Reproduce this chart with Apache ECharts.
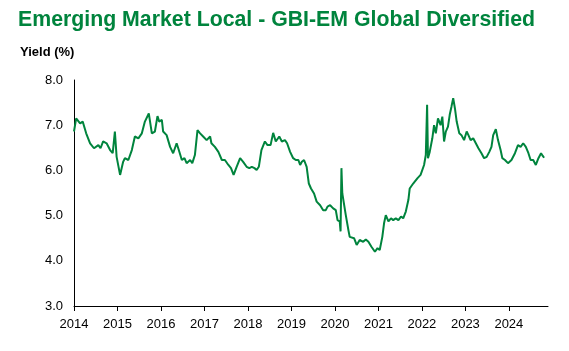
<!DOCTYPE html>
<html lang="en">
<head>
<meta charset="UTF-8">
<title>Emerging Market Local - GBI-EM Global Diversified</title>
<script src="https://cdn.jsdelivr.net/npm/echarts@6/dist/echarts.min.js"></script>
<style>
html, body { margin: 0; padding: 0; background: #fff; }
#chart { width: 569px; height: 351px; }
</style>
</head>
<body>
<div id="chart"></div>
<script>
// decimal-year dates and yields
const dates = [
2014.00,2014.05,2014.14,2014.20,2014.28,2014.37,2014.46,2014.56,2014.61,2014.67,2014.75,2014.83,2014.89,2014.94,2014.98,
2015.06,2015.13,2015.17,2015.25,2015.33,2015.40,2015.48,2015.56,2015.63,2015.72,2015.79,2015.86,2015.92,2015.96,
2016.02,2016.05,2016.13,2016.21,2016.28,2016.36,2016.41,2016.48,2016.54,2016.59,2016.67,2016.72,2016.78,2016.84,2016.90,2016.97,
2017.05,2017.13,2017.16,2017.24,2017.32,2017.40,2017.47,2017.55,2017.61,2017.67,2017.74,2017.82,2017.89,2017.97,
2018.03,2018.09,2018.15,2018.20,2018.25,2018.31,2018.39,2018.45,2018.52,2018.58,2018.64,2018.72,2018.78,2018.85,2018.90,2018.97,
2019.04,2019.10,2019.16,2019.20,2019.24,2019.29,2019.35,2019.40,2019.45,2019.52,2019.58,2019.66,2019.73,2019.79,2019.83,2019.89,2019.96,
2020.02,2020.06,2020.11,2020.13,2020.15,2020.17,2020.21,2020.25,2020.31,2020.34,2020.38,2020.44,2020.50,2020.57,2020.65,2020.71,2020.77,2020.84,2020.92,2020.98,
2021.03,2021.09,2021.13,2021.17,2021.23,2021.29,2021.34,2021.40,2021.46,2021.52,2021.57,2021.63,2021.69,2021.72,2021.76,2021.80,2021.84,2021.90,2021.97,
2022.01,2022.05,2022.09,2022.12,2022.14,2022.18,2022.24,2022.28,2022.32,2022.37,2022.43,2022.47,2022.51,2022.55,2022.60,2022.64,2022.68,2022.72,2022.76,2022.80,2022.86,2022.91,2022.97,
2023.03,2023.07,2023.12,2023.18,2023.24,2023.30,2023.37,2023.43,2023.49,2023.55,2023.60,2023.64,2023.70,2023.75,2023.81,2023.85,2023.91,2023.98,
2024.06,2024.14,2024.21,2024.27,2024.33,2024.39,2024.45,2024.50,2024.56,2024.62,2024.68,2024.74,2024.78,2024.81
];
const yields = [
6.86,7.15,7.04,7.08,6.82,6.60,6.49,6.56,6.49,6.64,6.60,6.45,6.38,6.86,6.30,
5.90,6.19,6.27,6.23,6.45,6.75,6.71,6.82,7.08,7.26,6.82,6.86,7.20,7.08,
7.12,6.86,6.78,6.52,6.38,6.60,6.45,6.23,6.27,6.16,6.23,6.16,6.34,6.89,6.82,6.75,
6.67,6.75,6.60,6.52,6.41,6.23,6.23,6.12,6.05,5.90,6.08,6.27,6.19,6.08,
6.05,6.08,6.05,6.01,6.08,6.45,6.64,6.56,6.56,6.83,6.64,6.75,6.64,6.67,6.60,6.41,
6.27,6.23,6.23,6.12,6.19,6.23,6.08,5.71,5.60,5.49,5.31,5.23,5.12,5.12,5.20,5.23,5.16,
5.12,4.90,4.87,4.65,6.05,5.49,5.53,5.01,4.68,4.53,4.57,4.50,4.35,4.46,4.42,4.47,4.42,4.31,4.20,4.28,
4.24,4.53,4.83,5.01,4.87,4.94,4.90,4.94,4.90,4.98,4.94,5.09,5.35,5.60,5.57,5.71,5.68,5.83,5.90,
5.94,6.12,6.34,7.45,6.27,6.41,6.71,7.00,6.82,7.15,7.00,7.19,6.64,6.86,6.97,7.23,7.41,7.60,7.37,7.08,6.82,6.78,6.67,
6.86,6.78,6.67,6.71,6.60,6.49,6.38,6.27,6.30,6.41,6.52,6.78,6.91,6.67,6.45,6.27,6.23,6.16,
6.23,6.38,6.56,6.52,6.60,6.52,6.38,6.23,6.23,6.12,6.27,6.38,6.32,6.28
];
const yearTicks = [2014,2015,2016,2017,2018,2019,2020,2021,2022,2023,2024];

const lineColor = '#00843D';
const titleText = 'Emerging Market Local - GBI-EM Global Diversified';
const titleFont = 'bold 22px "Liberation Sans", Arial, sans-serif';

// squeeze the title to the narrow width of the original
const ctx = document.createElement('canvas').getContext('2d');
ctx.font = titleFont;
const titleScale = 517 / ctx.measureText(titleText).width;

const chart = echarts.init(document.getElementById('chart'));
chart.setOption({
animation: false,
grid: { left: 74, right: 21, top: 80, bottom: 45 },
graphic: [{
type: 'text',
x: 18,
y: 9,
scaleX: titleScale,
style: { text: titleText, font: titleFont, fill: lineColor }
}, {
type: 'text',
left: 20,
top: 46,
style: { text: 'Yield (%)', fontSize: 13, fontWeight: 'bold', fill: '#000', fontFamily: '"Liberation Sans", Arial, sans-serif' }
}],
xAxis: {
type: 'value',
min: 2014,
max: 2024.9,
axisLine: { show: true, lineStyle: { color: '#000', width: 1 } },
axisTick: { show: true, length: 5, inside: false, customValues: yearTicks, lineStyle: { color: '#000' } },
axisLabel: {
customValues: yearTicks,
color: '#000',
fontSize: 13,
margin: 12,
fontFamily: '"Liberation Sans", Arial, sans-serif',
formatter: v => String(Math.round(v))
},
splitLine: { show: false }
},
yAxis: {
type: 'value',
min: 3,
max: 8,
interval: 1,
axisLine: { show: true, lineStyle: { color: '#000', width: 1 } },
axisTick: { show: false },
axisLabel: {
color: '#000',
fontSize: 13,
margin: 11,
fontFamily: '"Liberation Sans", Arial, sans-serif',
formatter: v => v.toFixed(1)
},
splitLine: { show: false }
},
series: [{
type: 'line',
data: dates.map((d, i) => [d, yields[i]]),
showSymbol: false,
lineStyle: { color: lineColor, width: 2 },
smooth: false
}]
});
</script>
</body>
</html>
